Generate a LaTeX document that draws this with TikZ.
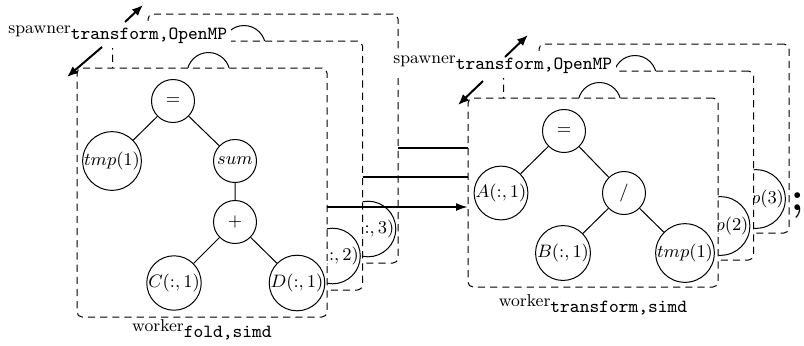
\documentclass[tikz,border=0pt]{standalone}
\usepackage{fontspec}
\usetikzlibrary{arrows.meta}
\pgfdeclarelayer{lower}
\pgfdeclarelayer{middle}
\pgfsetlayers{lower,middle,main}
\tikzset{
  wbox/.style={draw, dash pattern=on 3.6pt off 2.5pt, rounded corners=2.5pt, fill=white,
    line width=0.5pt, minimum width=125pt, anchor=north west, inner sep=0pt, outer sep=0pt},
  tn/.style={circle, draw, fill=white, line width=0.5pt, inner sep=0pt,
    minimum size=21.5pt, font=\fontsize{9}{11}\selectfont},
  te/.style={line width=0.5pt},
  conn/.style={line width=1pt},
  spawn/.style={line width=1pt, -{Latex[length=5.5pt,width=4.5pt]}},
  lbl/.style={inner sep=2pt, fill=white, font=\fontsize{8.6}{10}\selectfont},
  wlbl/.style={inner sep=0pt, font=\fontsize{8.6}{10}\selectfont},
}
% typewriter subscript kept at full size
\newcommand\ttsub[1]{\raisebox{-3.4pt}{\fontsize{9.3}{10}\selectfont\ttfamily #1}}
% dashed frame of one fold copy, with the two nodes that stick out of the copies in front
\newcommand\foldpeek[4]{%
  \begin{scope}[shift={(#2,#3)}]
    \node[wbox, minimum height=124.5pt] (#1box) at (0,0) {};
    \node[tn] (#1eq)  at (96,33)   {$=$};
    \node[tn] (#1d)   at (220,215) {$D(:,#4)$};
  \end{scope}}
% the front fold copy with its whole expression tree
\newcommand\foldlayer[4]{%
  \begin{scope}[shift={(#2,#3)}]
    \node[wbox, minimum height=124.5pt] (#1box) at (0,0) {};
    \node[tn] (#1eq)  at (96,33)   {$=$};
    \node[tn] (#1tmp) at (35,93)   {$tmp(#4)$};
    \node[tn] (#1sum) at (158,93)  {$sum$};
    \node[tn] (#1add) at (158,154) {$+$};
    \node[tn] (#1c)   at (97,215)  {$C(:,#4)$};
    \node[tn] (#1d)   at (220,215) {$D(:,#4)$};
    \draw[te] (#1eq) -- (#1tmp) (#1eq) -- (#1sum) (#1sum) -- (#1add)
              (#1add) -- (#1c) (#1add) -- (#1d);
  \end{scope}}
% dashed frame of one transform copy, with the nodes that stick out
\newcommand\xformpeek[4]{%
  \begin{scope}[shift={(#2,#3)}]
    \node[wbox, minimum height=94.5pt] (#1box) at (0,0) {};
    \node[tn] (#1eq)  at (96,33)   {$=$};
    \node[tn] (#1tmp) at (217,155) {$tmp(#4)$};
  \end{scope}}
% the front transform copy with its whole expression tree
\newcommand\xformlayer[4]{%
  \begin{scope}[shift={(#2,#3)}]
    \node[wbox, minimum height=94.5pt] (#1box) at (0,0) {};
    \node[tn] (#1eq)  at (96,33)   {$=$};
    \node[tn] (#1a)   at (33,95)   {$A(:,#4)$};
    \node[tn] (#1div) at (156,95)  {$/$};
    \node[tn] (#1b)   at (95,155)  {$B(:,#4)$};
    \node[tn] (#1tmp) at (217,155) {$tmp(#4)$};
    \draw[te] (#1eq) -- (#1a) (#1eq) -- (#1div) (#1div) -- (#1b) (#1div) -- (#1tmp);
  \end{scope}}
\begin{document}
\begin{tikzpicture}[x=0.5pt, y=-0.5pt]
\useasboundingbox (0,0) rectangle (804,345);

% fold stage
\begin{pgfonlayer}{lower}
  \foldpeek{L3}{148}{14}{3}
  \foldpeek{L2}{112.5}{41}{2}
  \foldlayer{L1}{77}{68}{1}
  \node[lbl, anchor=base west] (Lspawn) at (4,33) {spawner\ttsub{transform,OpenMP}};
  \coordinate (Lup0) at (125,22);  \coordinate (Lup1) at (143,5);
  \coordinate (Ldn0) at (102,47);  \coordinate (Ldn1) at (67,77);
  \draw[spawn] (Lup0) -- (Lup1);
  \draw[spawn] (Ldn0) -- (Ldn1);
  \node[wlbl, anchor=base] (Lwork) at (202,331) {worker\ttsub{fold,simd}};
\end{pgfonlayer}

% transform stage
\xformpeek{R3}{539}{44}{3}
\xformpeek{R2}{503.5}{71}{2}
\xformlayer{R1}{468}{98}{1}
\node[lbl, anchor=base west] (Rspawn) at (389,63) {spawner\ttsub{transform,OpenMP}};
\coordinate (Rup0) at (505,57);  \coordinate (Rup1) at (528,35);
\coordinate (Rdn0) at (483,81);  \coordinate (Rdn1) at (458,105);
\draw[spawn] (Rup0) -- (Rup1);
\draw[spawn] (Rdn0) -- (Rdn1);
\node[wlbl, anchor=base] (Rwork) at (593,306) {worker\ttsub{transform,simd}};

% data passed from each fold copy to the matching transform copy
\begin{pgfonlayer}{middle}
  \draw[conn] (L3box.east |- 0,148) -- (R3box.west |- 0,148);
  \draw[conn] (L2box.east |- 0,177) -- (R2box.west |- 0,177);
\end{pgfonlayer}
\draw[conn, -{Latex[length=6pt,width=4pt]}] (L1box.east |- 0,207) -- (R1box.west |- 0,207);

\node[font=\fontsize{20}{24}\selectfont\bfseries, anchor=base, inner sep=0pt] (semi) at (797.5,210) {;};
\end{tikzpicture}
\end{document}
